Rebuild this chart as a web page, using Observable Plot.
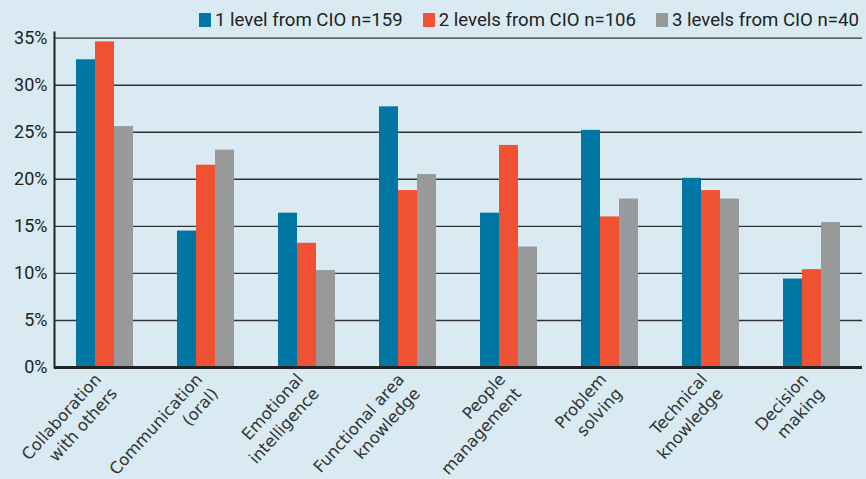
<!DOCTYPE html>
<html><head><meta charset="utf-8">
<script src="https://cdn.jsdelivr.net/npm/d3@7"></script>
<script src="https://cdn.jsdelivr.net/npm/@observablehq/plot@0.6"></script>
<style>
html,body{margin:0;padding:0;background:#d9eaf3;width:866px;height:479px;overflow:hidden}
#legend{height:22px;display:flex;align-items:flex-start;padding-left:199px;white-space:nowrap;font-family:Roboto,sans-serif;font-size:18.6px;line-height:22px;color:#222;box-sizing:border-box;width:866px;padding-top:9px;position:relative;z-index:2}
.item{display:inline-flex;align-items:center;margin-right:20px;flex:none}
.sw{width:12px;height:14px;margin-right:4px;display:inline-block}
#chart svg{display:block}
</style></head><body>
<div id="legend"></div><div id="chart"></div>
<script>
const categories = ["Collaboration with others", "Communication (oral)", "Emotional intelligence", "Functional area knowledge", "People management", "Problem solving", "Technical knowledge", "Decision making"];
const categoryLabels = ["Collaboration\nwith others", "Communication\n(oral)", "Emotional\nintelligence", "Functional area\nknowledge", "People\nmanagement", "Problem\nsolving", "Technical\nknowledge", "Decision\nmaking"];
const series = ["1 level from CIO n=159", "2 levels from CIO n=106", "3 levels from CIO n=40"];
const oneLevel = [32.7, 14.5, 16.4, 27.7, 16.4, 25.2, 20.1, 9.4];
const twoLevels = [34.6, 21.5, 13.2, 18.8, 23.6, 16.0, 18.8, 10.4];
const threeLevels = [25.6, 23.1, 10.3, 20.5, 12.8, 17.9, 17.9, 15.4];
const colors = ["#0077a3", "#f05133", "#98999b"];
const yTicks = [0, 5, 10, 15, 20, 25, 30, 35];

const seriesValues = [oneLevel, twoLevels, threeLevels];
const data = [];
categories.forEach((c, i) => series.forEach((s, j) => data.push({category: c, series: s, value: seriesValues[j][i]})));

// legend
const legend = d3.select("#legend");
series.forEach((s, j) => {
  const it = legend.append("span").attr("class", "item");
  it.append("span").attr("class", "sw").style("background", colors[j]);
  it.append("span").text(s);
});

const chart = Plot.plot({
  width: 866, height: 457,
  marginLeft: 54, marginRight: 4, marginTop: 10, marginBottom: 112,
  style: {background: "transparent", fontFamily: "Roboto, sans-serif", color: "#222"},
  fx: {domain: categories, padding: 0, label: null, axis: null},
  x: {domain: series, axis: null, paddingInner: 0, paddingOuter: 1.08},
  y: {domain: [0, 35.6], axis: null},
  color: {domain: series, range: colors},
  marks: [
    Plot.ruleY(yTicks, {stroke: "#333", strokeWidth: 1.4}),
    Plot.barY(data, {fx: "category", x: "series", y: "value", fill: "series"}),
    Plot.ruleY([0], {stroke: "#222", strokeWidth: 3}),
    Plot.frame({anchor: "left", facetAnchor: "left", stroke: "#222", strokeWidth: 2}),
    Plot.axisY({ticks: yTicks, tickSize: 0, tickPadding: 7, tickFormat: d => d + "%", fontSize: 18, anchor: "left", label: null}),
    Plot.axisFx({anchor: "bottom", tickSize: 0, tickRotate: -48, tickFormat: d => categoryLabels[categories.indexOf(d)], fontSize: 16.4, lineHeight: 1.3, fontFamily: "DejaVu Sans", fill: "#333", label: null, tickPadding: 15})
  ]
});
document.getElementById("chart").appendChild(chart);
</script>
</body></html>
